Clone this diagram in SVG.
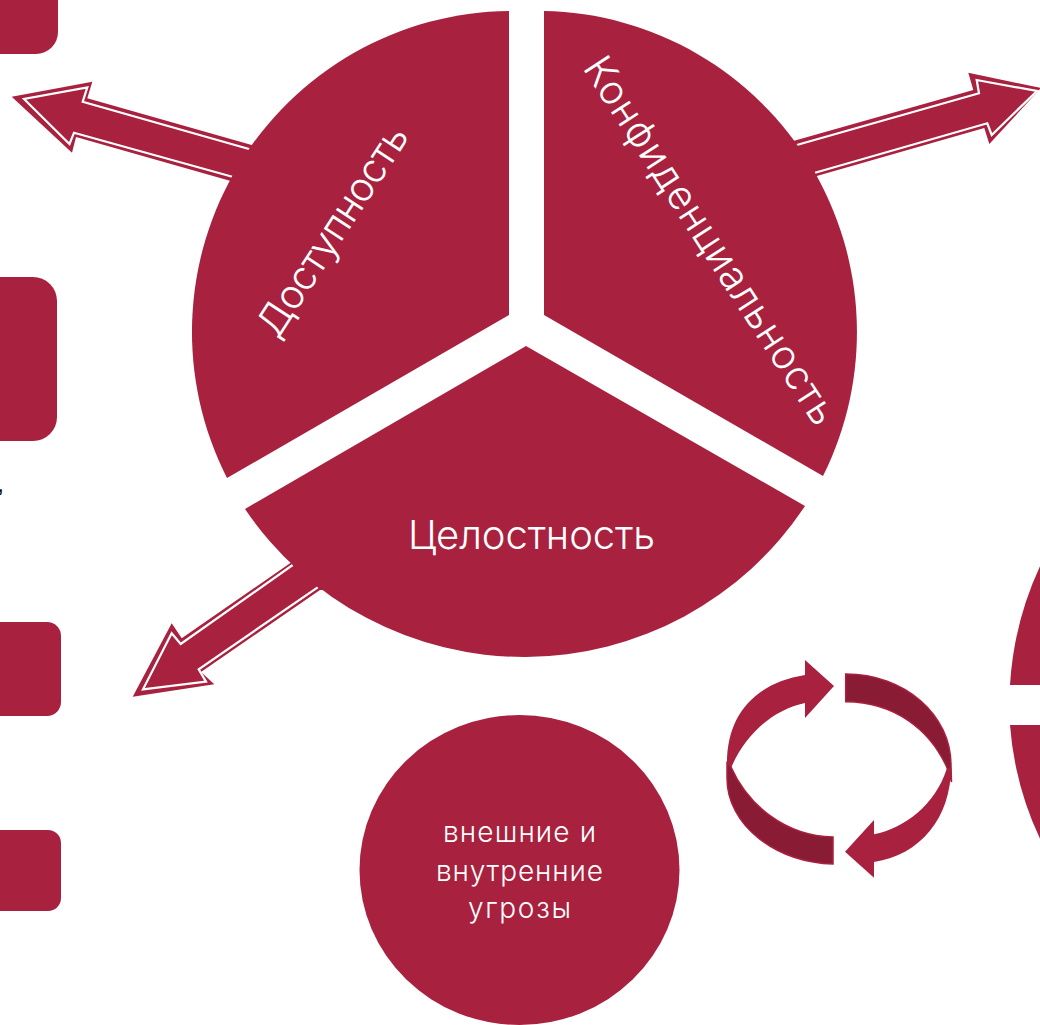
<svg xmlns="http://www.w3.org/2000/svg" width="1040" height="1025" viewBox="0 0 1040 1025">
<style>
.c{fill:#a8213f}
.d{fill:#8a1b35;stroke:#a8213f;stroke-width:1.5}
.w{fill:none;stroke:#fff;stroke-width:2.200}
.t{fill:#fff;font-family:"Inter","Open Sans",sans-serif;font-weight:300}
</style>
<rect fill="#fff" width="1040" height="1025"/>
<g id="side-boxes">
<rect class="c" x="-40" y="-40" width="98" height="94" rx="22"/>
<rect class="c" x="-40" y="277" width="97" height="164" rx="24"/>
<rect class="c" x="-40" y="622" width="101" height="94" rx="14"/>
<rect class="c" x="-40" y="830" width="101" height="81" rx="13"/>
<text x="-2" y="492" font-family="Liberation Sans, sans-serif" font-size="18" font-weight="700" fill="#111">,</text>
</g>
<g id="connectors">
<path class="c" d="M11.700 96.700L92.300 81.700L87.300 98.300L251.700 145L300 160L260 200L230.700 181L76 137L72 152.700Z"/>
<path class="w" d="M250.700 149.500L82.700 101.700L87.300 87.300L24 99L69.500 144L74 132.700L232.300 176.700"/>
<path class="c" d="M968.300 72.700L1041 88L989.300 144L984.300 128L813.300 177L790 200L760 160L793.300 141L973.300 90Z"/>
<path class="w" d="M795 145.500L979 93.300L976.700 80L1037 91L991.700 135L987.300 123.300L815 172.700"/>
<path class="c" d="M132.700 696.700L171.700 623.300L181.700 638.300L290 563.300L330 540L340 590L320 590L201 672L214.300 684.300Z"/>
<path class="w" d="M292.700 565L180.700 644L171.700 633.300L143 689.300L206 681.700L198.700 669.300L317.700 587.300"/>
</g>
<g id="dostupnost">
<path class="c" d="M509 11L509 315L227 478A320 321 0 0 1 509 11Z"/>
<text class="t" font-size="40" text-anchor="middle" textLength="243" transform="translate(344 238) rotate(-57)">Доступность</text>
</g>
<g id="konfidencialnost">
<path class="c" d="M544 11L544 315L823 476A319 321 0 0 0 544 11Z"/>
<text class="t" font-size="40" text-anchor="middle" textLength="430" transform="translate(699 248) rotate(57)">Конфиденциальность</text>
</g>
<g id="celostnost">
<path class="c" d="M526 346L805 506A337 337 0 0 1 245 509Z"/>
<text class="t" font-size="40" text-anchor="middle" x="531.500" y="549" textLength="247">Целостность</text>
</g>
<g id="threats">
<ellipse class="c" cx="519.500" cy="870" rx="160" ry="155"/>
<g class="t" font-size="28" text-anchor="middle">
<text x="519.500" y="842" textLength="153">внешние и</text>
<text x="519.500" y="881" textLength="167">внутренние</text>
<text x="519.500" y="918" textLength="103">угрозы</text>
</g>
</g>
<g id="cycle">
<path class="d" d="M845.700 674C905 674 951 715 951 765L951.500 782L946.700 767C930 730 895 702 845.700 701.700Z"/>
<path class="d" d="M731 767C748 805 785 836 833 837L833 864C775 862 727 825 727 778L727 763Z"/>
<path class="c" d="M834 686L805 660V675C755 683 727 715 727 763L731 768C745 735 772 710 805 703V718Z"/>
<path class="c" d="M845 851.700L874 820V834.300C905 828 935 805 946.700 769L951 767C951 818 920 855 874 862V877.700Z"/>
</g>
<g id="right-partial">
<path class="c" d="M1010 685A328 328 0 0 1 1042 562V685Z"/>
<path class="c" d="M1010 725A328 328 0 0 0 1042 843V725Z"/>
</g>
</svg>
